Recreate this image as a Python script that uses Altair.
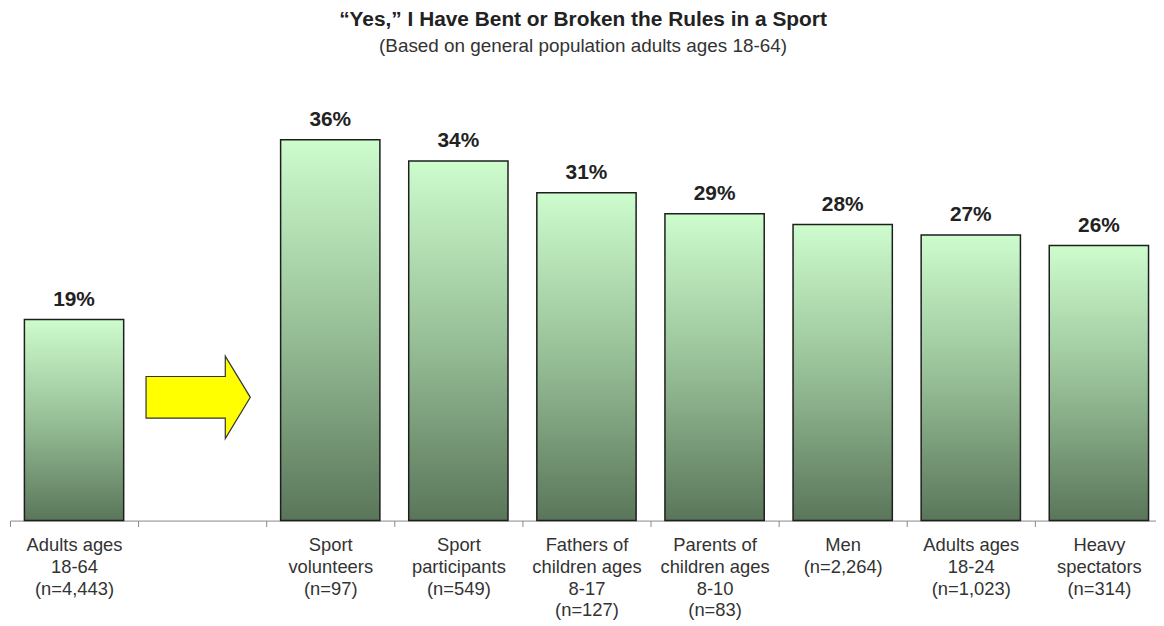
import altair as alt
import pandas as pd

# ---- data ----
CATEGORIES = [
    "Adults ages\n18-64\n(n=4,443)",
    " ",
    "Sport\nvolunteers\n(n=97)",
    "Sport\nparticipants\n(n=549)",
    "Fathers of\nchildren ages\n8-17\n(n=127)",
    "Parents of\nchildren ages\n8-10\n(n=83)",
    "Men\n(n=2,264)",
    "Adults ages\n18-24\n(n=1,023)",
    "Heavy\nspectators\n(n=314)",
]
BAR_CATEGORIES = [c for c in CATEGORIES if c.strip()]
VALUES = [19, 36, 34, 31, 29, 28, 27, 26]
VALUE_LABELS = [f"{v}%" for v in VALUES]

ARROW_CATEGORY = [" "]
ARROW_LEVEL = [11.65]

TITLE = "\u201cYes,\u201d I Have Bent or Broken the Rules in a Sport"
SUBTITLE = "(Based on general population adults ages 18-64)"

bars_df = pd.DataFrame({"cat": BAR_CATEGORIES, "value": VALUES, "label": VALUE_LABELS})
arrow_df = pd.DataFrame({"cat": ARROW_CATEGORY, "lvl": ARROW_LEVEL})

FONT = "Liberation Sans, Arial, Helvetica, sans-serif"

x_enc = alt.X(
    "cat:N",
    scale=alt.Scale(domain=CATEGORIES, range=[0, 1161], paddingInner=0, paddingOuter=0),
    axis=alt.Axis(
        title=None,
        labelAngle=0,
        tickBand="extent",
        ticks=True,
        tickSize=6,
        tickColor="#888888",
        domainColor="#888888",
        labelFont=FONT,
        labelFontSize=18.5,
        labelColor="#333333",
        labelLineHeight=22,
        labelPadding=9,
        labelOverlap=False,
        labelLimit=0,
        labelExpr="split(datum.label, '\\n')",
    ),
)
y_scale = alt.Scale(domain=[0, 40])

gradient = alt.Gradient(
    gradient="linear",
    stops=[
        alt.GradientStop(color="#cdfccd", offset=0),
        alt.GradientStop(color="#97bf97", offset=0.5),
        alt.GradientStop(color="#5a765a", offset=1),
    ],
    x1=0, x2=0, y1=0, y2=1,
)

bars = alt.Chart(bars_df).mark_bar(
    width=alt.RelativeBandSize(0.775),
    fill=gradient,
    stroke="#1e1e1e",
    strokeWidth=1.5,
).encode(
    x=x_enc,
    y=alt.Y("value:Q", scale=y_scale, axis=None),
)

labels = alt.Chart(bars_df).mark_text(
    dy=-14,
    baseline="alphabetic",
    font=FONT,
    fontSize=21,
    fontWeight="bold",
    color="#222222",
).encode(
    x=alt.X("cat:N"),
    y=alt.Y("value:Q", scale=y_scale, axis=None),
    text="label:N",
)

ARROW_PATH = "M -1 -0.4 L 0.52 -0.4 L 0.52 -0.79 L 1 0 L 0.52 0.79 L 0.52 0.4 L -1 0.4 Z"
arrow = alt.Chart(arrow_df).mark_point(
    shape=ARROW_PATH,
    size=11025,
    filled=True,
    fill="#ffff00",
    stroke="#333333",
    strokeWidth=1.2,
    opacity=1,
    xOffset=-4,
).encode(
    x=alt.X("cat:N"),
    y=alt.Y("lvl:Q", scale=y_scale, axis=None),
)

chart = alt.layer(bars, labels, arrow).properties(
    width=1154,
    height=426,
    background="white",
    title=alt.TitleParams(
        text=TITLE,
        subtitle=SUBTITLE,
        anchor="middle",
        font=FONT,
        fontSize=21,
        fontWeight="bold",
        color="#222222",
        subtitleFont=FONT,
        subtitleFontSize=19,
        subtitleColor="#333333",
        subtitlePadding=7,
        offset=42,
    ),
    autosize=alt.AutoSizeParams(type="none"),
    padding={"left": 2, "top": 88, "right": 0, "bottom": 100},
).configure_view(strokeWidth=0, stroke="transparent")

chart.save("out.html", embed_options={"renderer": "svg", "actions": False})
